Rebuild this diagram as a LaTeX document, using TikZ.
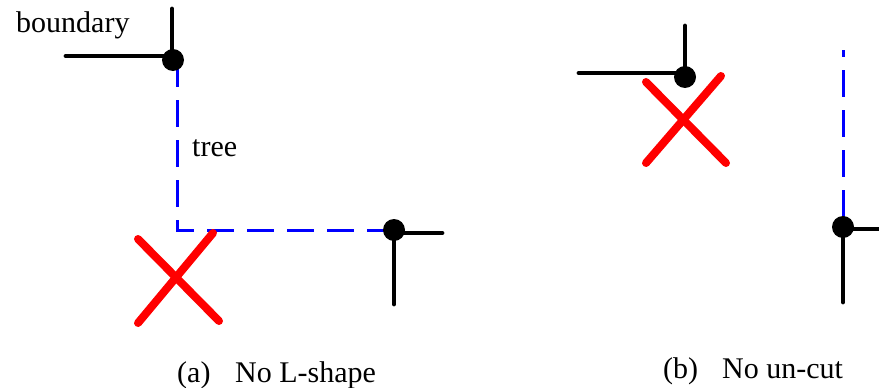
\documentclass[tikz,border=0pt]{standalone}
\usepackage{fontspec}
\setmainfont{Liberation Serif}
\begin{document}
\begin{tikzpicture}[x=1pt,y=-1pt,
  bnd/.style={line width=4.8pt, line cap=round},
  treeline/.style={blue, line width=3pt, dash pattern=on 27pt off 13pt},
  cross/.style={red, line width=8pt, line cap=round},
  dot/.style={circle, fill=black, inner sep=0pt, minimum size=22pt},
  lbl/.style={font=\fontsize{30}{36}\selectfont, anchor=base west, inner sep=0pt}]
\useasboundingbox (0,0) rectangle (879,388);

% ---------- panel (a) ----------
\coordinate (a1up) at (172,9);
\coordinate (a1left) at (66,56);
\coordinate (a1tree) at (177,60);
\coordinate (acorner) at (177,230);
\coordinate (a2right) at (442,233);
\coordinate (a2down) at (394,304);
\coordinate (axa) at (138,323);
\coordinate (axb) at (213,233);
\coordinate (axc) at (138,239);
\coordinate (axd) at (219,321);

\draw[treeline] (a1tree) -- (acorner) -- (394,230);
\draw[bnd] (a1up) -- (172,60);
\draw[bnd] (a1left) -- (173,56);
\draw[bnd] (394,233) -- (a2right);
\draw[bnd] (394,230) -- (a2down);
\node[dot] (d1) at (173,60) {};
\node[dot] (d2) at (394,230) {};
\draw[cross] (axa) -- (axb);
\draw[cross] (axc) -- (axd);

\node[lbl] (boundary) at (16,32) {boundary};
\node[lbl] (tree) at (192,156) {tree};
\node[lbl] (capa) at (177,382) {(a)};
\node[lbl] (capatext) at (235,382) {No L-shape};

% ---------- panel (b) ----------
\coordinate (b1up) at (685,26);
\coordinate (b1left) at (579,73);
\coordinate (btop) at (843,50);
\coordinate (b2right) at (881,229);
\coordinate (b2down) at (843,302);
\coordinate (bxa) at (646,163);
\coordinate (bxb) at (721,76);
\coordinate (bxc) at (646,82);
\coordinate (bxd) at (726,163);

\draw[treeline, dash phase=20pt] (btop) -- (843,227);
\draw[bnd] (b1up) -- (685,77);
\draw[bnd] (b1left) -- (685,73);
\draw[bnd] (843,229) -- (b2right);
\draw[bnd] (843,227) -- (b2down);
\node[dot] (d3) at (685,77) {};
\node[dot] (d4) at (843,227) {};
\draw[cross] (bxa) -- (bxb);
\draw[cross] (bxc) -- (bxd);

\node[lbl] (capb) at (663,378) {(b)};
\node[lbl] (capbtext) at (722,378) {No un-cut};
\end{tikzpicture}
\end{document}
